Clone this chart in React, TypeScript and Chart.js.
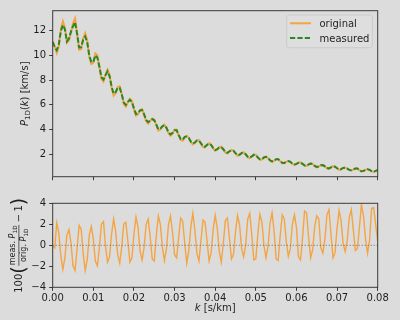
import React, { useEffect, useRef } from "react";
import { Chart, registerables } from "chart.js";

Chart.register(...registerables);

// ---------------- data ----------------
const kValues = [
  0, 0.0005, 0.001, 0.0015, 0.002, 0.0025, 0.003, 0.0035, 0.004, 0.0045,
  0.005, 0.0055, 0.006, 0.0065, 0.007, 0.0075, 0.008, 0.0085, 0.009, 0.0095,
  0.01, 0.0105, 0.011, 0.0115, 0.012, 0.0125, 0.013, 0.0135, 0.014, 0.0145,
  0.015, 0.0155, 0.016, 0.0165, 0.017, 0.0175, 0.018, 0.0185, 0.019, 0.0195,
  0.02, 0.0205, 0.021, 0.0215, 0.022, 0.0225, 0.023, 0.0235, 0.024, 0.0245,
  0.025, 0.0255, 0.026, 0.0265, 0.027, 0.0275, 0.028, 0.0285, 0.029, 0.0295,
  0.03, 0.0305, 0.031, 0.0315, 0.032, 0.0325, 0.033, 0.0335, 0.034, 0.0345,
  0.035, 0.0355, 0.036, 0.0365, 0.037, 0.0375, 0.038, 0.0385, 0.039, 0.0395,
  0.04, 0.0405, 0.041, 0.0415, 0.042, 0.0425, 0.043, 0.0435, 0.044, 0.0445,
  0.045, 0.0455, 0.046, 0.0465, 0.047, 0.0475, 0.048, 0.0485, 0.049, 0.0495,
  0.05, 0.0505, 0.051, 0.0515, 0.052, 0.0525, 0.053, 0.0535, 0.054, 0.0545,
  0.055, 0.0555, 0.056, 0.0565, 0.057, 0.0575, 0.058, 0.0585, 0.059, 0.0595,
  0.06, 0.0605, 0.061, 0.0615, 0.062, 0.0625, 0.063, 0.0635, 0.064, 0.0645,
  0.065, 0.0655, 0.066, 0.0665, 0.067, 0.0675, 0.068, 0.0685, 0.069, 0.0695,
  0.07, 0.0705, 0.071, 0.0715, 0.072, 0.0725, 0.073, 0.0735, 0.074, 0.0745,
  0.075, 0.0755, 0.076, 0.0765, 0.077, 0.0775, 0.078, 0.0785, 0.079, 0.0795,
  0.08,
];

const originalP1D = [
  11.1, 10.7, 10.2, 10.75, 12.07, 12.75, 12.26, 11.02, 11.2, 11.9,
  12.6, 13.0, 11.8, 10.45, 10.5, 11.36, 11.8, 11.2, 9.9, 9.3,
  9.4, 10.15, 10.0, 9.08, 8.07, 7.86, 8.41, 8.84, 8.4, 7.39,
  6.73, 6.93, 7.44, 7.49, 6.84, 6.05, 5.85, 6.21, 6.48, 6.3,
  5.64, 5.1, 5.21, 5.57, 5.64, 5.22, 4.67, 4.47, 4.68, 4.88,
  4.8, 4.35, 3.9, 3.98, 4.26, 4.4, 4.13, 3.69, 3.49, 3.67,
  3.97, 3.98, 3.52, 3.14, 3.08, 3.38, 3.47, 3.32, 2.96, 2.77,
  2.89, 3.11, 3.13, 2.86, 2.56, 2.53, 2.73, 2.88, 2.75, 2.45,
  2.26, 2.35, 2.55, 2.59, 2.38, 2.11, 2.05, 2.2, 2.33, 2.28,
  2.04, 1.85, 1.91, 2.08, 2.15, 1.98, 1.74, 1.65, 1.79, 1.96,
  1.94, 1.7, 1.53, 1.55, 1.72, 1.79, 1.67, 1.46, 1.37, 1.46,
  1.59, 1.6, 1.42, 1.25, 1.25, 1.37, 1.44, 1.37, 1.2, 1.12,
  1.18, 1.3, 1.32, 1.19, 1.05, 1.03, 1.15, 1.24, 1.18, 1.02,
  0.92, 0.97, 1.09, 1.11, 0.99, 0.84, 0.8, 0.91, 1.02, 0.98,
  0.84, 0.71, 0.75, 0.87, 0.9, 0.82, 0.69, 0.66, 0.74, 0.83,
  0.82, 0.69, 0.58, 0.61, 0.71, 0.77, 0.71, 0.59, 0.54, 0.62,
  0.7,
];

const measuredP1D = [
  11.09, 10.67, 10.42, 10.88, 11.95, 12.46, 12.11, 11.13, 11.37, 11.92,
  12.35, 12.69, 11.76, 10.65, 10.66, 11.27, 11.52, 11.05, 9.99, 9.47,
  9.46, 10.0, 9.81, 9.06, 8.23, 8.04, 8.4, 8.7, 8.31, 7.47,
  6.9, 7.02, 7.37, 7.36, 6.83, 6.17, 5.98, 6.23, 6.38, 6.22,
  5.7, 5.24, 5.3, 5.54, 5.56, 5.21, 4.76, 4.58, 4.72, 4.82,
  4.73, 4.39, 4.01, 4.06, 4.25, 4.34, 4.12, 3.76, 3.59, 3.71,
  3.93, 3.93, 3.55, 3.22, 3.15, 3.39, 3.41, 3.3, 3.01, 2.85,
  2.93, 3.09, 3.08, 2.87, 2.62, 2.59, 2.74, 2.84, 2.73, 2.49,
  2.32, 2.39, 2.54, 2.55, 2.39, 2.16, 2.1, 2.22, 2.3, 2.26,
  2.07, 1.9, 1.95, 2.07, 2.13, 1.98, 1.78, 1.7, 1.81, 1.93,
  1.91, 1.72, 1.58, 1.58, 1.72, 1.77, 1.67, 1.49, 1.41, 1.48,
  1.57, 1.58, 1.43, 1.29, 1.28, 1.37, 1.42, 1.37, 1.22, 1.15,
  1.2, 1.29, 1.3, 1.2, 1.08, 1.06, 1.16, 1.23, 1.18, 1.04,
  0.95, 0.99, 1.09, 1.1, 1.0, 0.86, 0.83, 0.92, 1.01, 0.97,
  0.85, 0.73, 0.77, 0.87, 0.89, 0.82, 0.71, 0.68, 0.75, 0.83,
  0.82, 0.7, 0.6, 0.63, 0.71, 0.76, 0.71, 0.61, 0.56, 0.63,
  0.7,
];

const residualPct = [
  -0.1, -0.25, 2.15, 1.2, -1.0, -2.3, -1.2, 1.0, 1.5, 0.2,
  -1.95, -2.4, -0.3, 1.9, 1.55, -0.75, -2.4, -1.35, 0.95, 1.8,
  0.6, -1.5, -1.95, -0.2, 2.0, 2.25, -0.1, -1.6, -1.1, 1.1,
  2.5, 1.3, -0.9, -1.7, -0.1, 2.05, 2.2, 0.4, -1.6, -1.2,
  1.06, 2.7, 1.7, -0.55, -1.4, -0.2, 2.0, 2.5, 0.8, -1.3,
  -1.5, 0.9, 2.8, 2.0, -0.2, -1.45, -0.3, 1.97, 2.8, 1.2,
  -0.9, -1.2, 0.75, 2.6, 2.3, 0.2, -1.7, -0.5, 1.75, 3.05,
  1.43, -0.77, -1.5, 0.48, 2.4, 2.2, 0.4, -1.5, -0.7, 1.5,
  2.85, 1.67, -0.57, -1.6, 0.22, 2.37, 2.6, 0.7, -1.3, -0.85,
  1.3, 2.85, 1.95, -0.3, -1.1, 0.02, 2.5, 3.05, 1.0, -1.4,
  -1.3, 1.1, 2.95, 2.2, 0.0, -1.2, -0.12, 2.12, 3.1, 1.33,
  -1.3, -1.45, 0.9, 2.9, 2.5, 0.34, -1.05, -0.3, 2.0, 2.9,
  1.7, -1.1, -1.4, 0.73, 3.25, 3.1, 0.7, -1.2, -0.4, 1.8,
  2.8, 2.5, -0.22, -0.75, 0.57, 2.9, 3.4, 1.05, -1.2, -0.7,
  1.66, 3.3, 2.3, 0.1, -0.6, 0.47, 2.67, 3.4, 1.47, -0.5,
  -0.3, 1.7, 3.9, 2.8, 0.6, -0.75, 0.48, 3.5, 3.6, 2.0,
  0.4,
];

const kTicks = [0, 0.01, 0.02, 0.03, 0.04, 0.05, 0.06, 0.07, 0.08];
const topYTicks = [2, 4, 6, 8, 10, 12];
const resYTicks = [-4, -2, 0, 2, 4];
const kRange = [0, 0.08];
const topYRange = [0.16, 13.62];
const resYRange = [-4, 4];
const zeroLineK = [0, 0.08];
const zeroLineY = [0, 0];
const seriesNames = ["original", "measured"];

// ---------------- styles ----------------
const BG = "#dcdcdc";
const ORANGE = "rgb(244,164,66)";
const GREEN = "rgb(40,135,40)";
const INK = "#1e1e1e";
const SPINE = "#3a3a3a";
const FAM = '"DejaVu Sans", sans-serif';
const FS = 10;
const fnt = (style: string, size: number) =>
  `${style ? style + " " : ""}${size}px ${FAM}`;

type Run = { text: string; font: string; dy?: number; gap?: number };

function runsWidth(ctx: CanvasRenderingContext2D, runs: Run[]) {
  let w = 0;
  for (const r of runs) {
    ctx.font = r.font;
    w += ctx.measureText(r.text).width + (r.gap || 0);
  }
  return w;
}
function drawRuns(ctx: CanvasRenderingContext2D, runs: Run[], x: number, y: number) {
  let u = x;
  for (const r of runs) {
    ctx.font = r.font;
    ctx.fillText(r.text, u, y + (r.dy || 0));
    u += ctx.measureText(r.text).width + (r.gap || 0);
  }
}

const framePlugin = {
  id: "frame",
  afterDatasetsDraw(chart: any) {
    const { ctx, chartArea: a } = chart;
    ctx.save();
    ctx.strokeStyle = SPINE;
    ctx.lineWidth = 1;
    ctx.strokeRect(a.left, a.top, a.right - a.left, a.bottom - a.top);
    ctx.restore();
  },
};

const topLabelsPlugin = {
  id: "topLabels",
  afterDraw(chart: any) {
    const { ctx, chartArea: a } = chart;
    ctx.save();
    ctx.fillStyle = INK;
    ctx.textAlign = "left";
    ctx.textBaseline = "alphabetic";
    // y label
    ctx.save();
    ctx.translate(27.5, (a.top + a.bottom) / 2);
    ctx.rotate(-Math.PI / 2);
    const runs: Run[] = [
      { text: "P", font: fnt("italic", FS) },
      { text: "1D", font: fnt("", 7), dy: 2.2 },
      { text: "(", font: fnt("", FS) },
      { text: "k", font: fnt("italic", FS) },
      { text: ") [km/s]", font: fnt("", FS) },
    ];
    drawRuns(ctx, runs, -runsWidth(ctx, runs) / 2, 0);
    ctx.restore();

    // legend
    const lx = 286.7, ly = 15, lw = 85.6, lh = 32.7, r = 2.8;
    ctx.beginPath();
    ctx.moveTo(lx + r, ly);
    ctx.lineTo(lx + lw - r, ly);
    ctx.quadraticCurveTo(lx + lw, ly, lx + lw, ly + r);
    ctx.lineTo(lx + lw, ly + lh - r);
    ctx.quadraticCurveTo(lx + lw, ly + lh, lx + lw - r, ly + lh);
    ctx.lineTo(lx + r, ly + lh);
    ctx.quadraticCurveTo(lx, ly + lh, lx, ly + lh - r);
    ctx.lineTo(lx, ly + r);
    ctx.quadraticCurveTo(lx, ly, lx + r, ly);
    ctx.closePath();
    ctx.fillStyle = "rgba(222,222,222,0.8)";
    ctx.fill();
    ctx.strokeStyle = "#cbcbcb";
    ctx.lineWidth = 1;
    ctx.stroke();

    const rows = [
      { y: 23.3, color: ORANGE, dash: [] as number[], label: seriesNames[0] },
      { y: 38.0, color: GREEN, dash: [5.2, 2.2], label: seriesNames[1] },
    ];
    for (const row of rows) {
      ctx.beginPath();
      ctx.setLineDash(row.dash);
      ctx.strokeStyle = row.color;
      ctx.lineWidth = 2;
      ctx.moveTo(290, row.y);
      ctx.lineTo(311, row.y);
      ctx.stroke();
      ctx.setLineDash([]);
      ctx.fillStyle = INK;
      ctx.font = fnt("", FS);
      ctx.fillText(row.label, 319.5, row.y + 3.6);
    }
    ctx.restore();
  },
};

const bottomLabelsPlugin = {
  id: "bottomLabels",
  afterDraw(chart: any) {
    const { ctx, chartArea: a } = chart;
    ctx.save();
    ctx.fillStyle = INK;
    ctx.textAlign = "left";
    ctx.textBaseline = "alphabetic";

    // x label
    const xr: Run[] = [
      { text: "k", font: fnt("italic", FS) },
      { text: " [s/km]", font: fnt("", FS) },
    ];
    drawRuns(ctx, xr, (a.left + a.right) / 2 - runsWidth(ctx, xr) / 2, 121);

    // y label: 100( meas.P1D / orig.P1D - 1 )
    ctx.save();
    ctx.translate(22.3, (a.top + a.bottom) / 2);
    ctx.rotate(-Math.PI / 2);
    const main = fnt("", FS);
    const sm = fnt("", 8);
    const smI = fnt("italic", 8);
    const tiny = fnt("", 5.8);
    const bigSize = 19;
    const big = fnt("", bigSize);
    const axis = -3.4;
    const num: Run[] = [
      { text: "meas. ", font: sm },
      { text: "P", font: smI },
      { text: "1D", font: tiny, dy: 1.6 },
    ];
    const den: Run[] = [
      { text: "orig. ", font: sm },
      { text: "P", font: smI },
      { text: "1D", font: tiny, dy: 1.6 },
    ];
    ctx.font = main;
    const w100 = ctx.measureText("100").width;
    const wm = ctx.measureText("\u2212").width;
    const w1 = ctx.measureText("1").width;
    ctx.font = big;
    const wp = ctx.measureText("(").width;
    const nw = runsWidth(ctx, num);
    const dw = runsWidth(ctx, den);
    const fw = Math.max(nw, dw) + 2;
    const gap = 2.2;
    const total = w100 + wp + fw + gap + wm + gap + w1 + wp;
    let u = -total / 2;
    ctx.font = main;
    ctx.fillText("100", u, 0);
    u += w100;
    const parenBase = axis + 0.315 * bigSize;
    ctx.font = big;
    ctx.fillText("(", u, parenBase);
    u += wp;
    drawRuns(ctx, num, u + (fw - nw) / 2, axis - 3.4);
    drawRuns(ctx, den, u + (fw - dw) / 2, axis + 7.4);
    ctx.fillRect(u + 0.5, axis - 0.35, fw - 1, 0.7);
    u += fw + gap;
    ctx.font = main;
    ctx.fillText("\u2212", u, 0);
    u += wm + gap;
    ctx.fillText("1", u, 0);
    u += w1;
    ctx.font = big;
    ctx.fillText(")", u, parenBase);
    ctx.restore();

    ctx.restore();
  },
};

const minusFmt = (v: number) => (v < 0 ? "\u2212" + Math.abs(v) : String(v));

function axisCommon() {
  return {
    grid: {
      drawOnChartArea: false,
      drawTicks: true,
      tickLength: 3.5,
      color: SPINE,
      tickColor: SPINE,
      lineWidth: 1,
    },
    border: { display: false },
  };
}

function topConfig(): any {
  return {
    type: "line",
    data: {
      datasets: [
        {
          label: seriesNames[0],
          data: kValues.map((k, i) => ({ x: k, y: originalP1D[i] })),
          borderColor: ORANGE,
          borderWidth: 2,
          pointRadius: 0,
          tension: 0,
          fill: false,
          order: 2,
        },
        {
          label: seriesNames[1],
          data: kValues.map((k, i) => ({ x: k, y: measuredP1D[i] })),
          borderColor: GREEN,
          borderWidth: 2,
          borderDash: [5.2, 2.2],
          pointRadius: 0,
          tension: 0,
          fill: false,
          order: 1,
        },
      ],
    },
    options: {
      responsive: false,
      maintainAspectRatio: false,
      animation: false,
      events: [],
      layout: { padding: { left: 0, top: 10.7, right: 22.3, bottom: 0 } },
      plugins: { legend: { display: false }, tooltip: { enabled: false } },
      scales: {
        x: {
          type: "linear",
          min: kRange[0],
          max: kRange[1],
          afterBuildTicks: (s: any) => {
            s.ticks = kTicks.map((v) => ({ value: v }));
          },
          afterFit: (s: any) => {
            s.height = 13.3;
          },
          ticks: { display: false },
          ...axisCommon(),
        },
        y: {
          type: "linear",
          min: topYRange[0],
          max: topYRange[1],
          afterBuildTicks: (s: any) => {
            s.ticks = topYTicks.map((v) => ({ value: v }));
          },
          afterFit: (s: any) => {
            s.width = 52.7;
          },
          ticks: {
            color: INK,
            font: { family: FAM, size: FS },
            padding: 3.2,
            autoSkip: false,
            callback: (v: number) => minusFmt(v),
          },
          ...axisCommon(),
        },
      },
    },
    plugins: [framePlugin, topLabelsPlugin],
  };
}

function bottomConfig(): any {
  return {
    type: "line",
    data: {
      datasets: [
        {
          label: "residual",
          data: kValues.map((k, i) => ({ x: k, y: residualPct[i] })),
          borderColor: ORANGE,
          borderWidth: 1.4,
          pointRadius: 0,
          tension: 0,
          fill: false,
          order: 2,
        },
        {
          label: "zero",
          data: zeroLineK.map((k, i) => ({ x: k, y: zeroLineY[i] })),
          borderColor: "#666",
          borderWidth: 1,
          borderDash: [1, 2],
          pointRadius: 0,
          fill: false,
          order: 1,
        },
      ],
    },
    options: {
      responsive: false,
      maintainAspectRatio: false,
      animation: false,
      events: [],
      layout: { padding: { left: 0, top: 13.3, right: 22.3, bottom: 0 } },
      plugins: { legend: { display: false }, tooltip: { enabled: false } },
      scales: {
        x: {
          type: "linear",
          min: kRange[0],
          max: kRange[1],
          afterBuildTicks: (s: any) => {
            s.ticks = kTicks.map((v) => ({ value: v }));
          },
          afterFit: (s: any) => {
            s.height = 32.7;
          },
          ticks: {
            color: INK,
            font: { family: FAM, size: FS },
            padding: 2,
            maxRotation: 0,
            autoSkip: false,
            callback: (v: number) => Number(v).toFixed(2),
          },
          ...axisCommon(),
        },
        y: {
          type: "linear",
          min: resYRange[0],
          max: resYRange[1],
          afterBuildTicks: (s: any) => {
            s.ticks = resYTicks.map((v) => ({ value: v }));
          },
          afterFit: (s: any) => {
            s.width = 52.7;
          },
          ticks: {
            color: INK,
            font: { family: FAM, size: FS },
            padding: 3.2,
            autoSkip: false,
            callback: (v: number) => minusFmt(v),
          },
          ...axisCommon(),
        },
      },
    },
    plugins: [framePlugin, bottomLabelsPlugin],
  };
}

export default function App() {
  const topRef = useRef<HTMLCanvasElement>(null);
  const botRef = useRef<HTMLCanvasElement>(null);
  useEffect(() => {
    const c1 = new Chart(topRef.current as HTMLCanvasElement, topConfig());
    const c2 = new Chart(botRef.current as HTMLCanvasElement, bottomConfig());
    return () => {
      c1.destroy();
      c2.destroy();
    };
  }, []);
  return (
    <div
      style={{
        position: "fixed",
        left: 0,
        top: 0,
        width: 400,
        height: 320,
        background: BG,
        overflow: "hidden",
      }}
    >
      <canvas
        ref={topRef}
        width={400}
        height={190}
        style={{ position: "absolute", left: 0, top: 0, width: 400, height: 190 }}
      />
      <canvas
        ref={botRef}
        width={400}
        height={130}
        style={{ position: "absolute", left: 0, top: 190, width: 400, height: 130 }}
      />
    </div>
  );
}
